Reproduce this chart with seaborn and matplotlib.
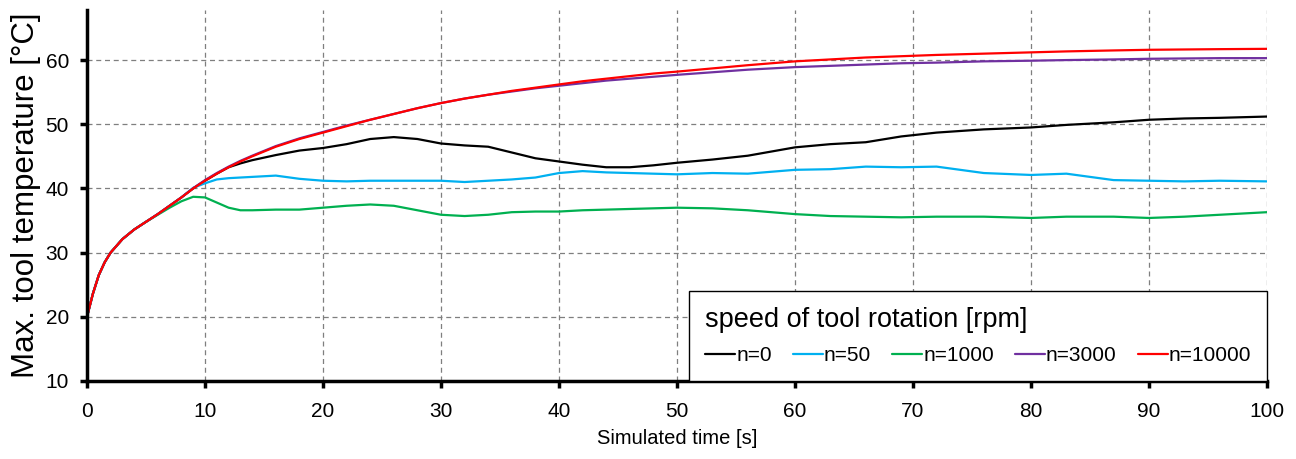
import matplotlib
matplotlib.use("Agg")
import matplotlib.pyplot as plt
import seaborn as sns
import pandas as pd

time_s = [0, 0.5, 1, 1.5, 2, 3, 4, 5, 6, 7, 8, 9, 10, 11, 12, 13, 14, 16, 18, 20,
          22, 24, 26, 28, 30, 32, 34, 36, 38, 40, 42, 44, 46, 48, 50, 53, 56, 60,
          63, 66, 69, 72, 76, 80, 83, 87, 90, 93, 96, 100]

n10000 = [20.0, 23.6, 26.5, 28.5, 30.0, 32.1, 33.6, 34.8, 36.0, 37.3, 38.6, 40.0, 41.2,
          42.3, 43.3, 44.2, 45.0, 46.5, 47.7, 48.7, 49.7, 50.7, 51.6, 52.5, 53.3, 54.0,
          54.6, 55.2, 55.7, 56.2, 56.7, 57.1, 57.5, 57.9, 58.2, 58.7, 59.2, 59.8, 60.1,
          60.4, 60.6, 60.8, 61.0, 61.2, 61.35, 61.5, 61.6, 61.65, 61.7, 61.75]

n3000 = [20.0, 23.6, 26.5, 28.5, 30.0, 32.1, 33.6, 34.8, 36.0, 37.3, 38.6, 40.05, 41.3,
         42.4, 43.4, 44.3, 45.1, 46.6, 47.8, 48.8, 49.8, 50.7, 51.6, 52.5, 53.3, 54.0,
         54.6, 55.1, 55.6, 56.0, 56.4, 56.8, 57.1, 57.4, 57.7, 58.1, 58.5, 58.9, 59.1,
         59.3, 59.5, 59.6, 59.8, 59.9, 60.0, 60.1, 60.2, 60.25, 60.3, 60.3]

n0 = [20.0, 23.6, 26.5, 28.5, 30.0, 32.1, 33.6, 34.8, 36.0, 37.3, 38.6, 40.0, 41.2,
      42.3, 43.3, 43.9, 44.4, 45.2, 45.9, 46.3, 46.9, 47.7, 48.0, 47.7, 47.0, 46.7,
      46.5, 45.6, 44.7, 44.2, 43.7, 43.3, 43.3, 43.6, 44.0, 44.5, 45.1, 46.4, 46.9,
      47.2, 48.1, 48.7, 49.2, 49.5, 49.9, 50.3, 50.7, 50.9, 51.0, 51.2]

n50 = [20.0, 23.6, 26.5, 28.5, 30.0, 32.1, 33.6, 34.8, 36.0, 37.3, 38.6, 40.1, 40.8,
       41.4, 41.6, 41.7, 41.8, 42.0, 41.5, 41.2, 41.1, 41.2, 41.2, 41.2, 41.2, 41.0,
       41.2, 41.4, 41.7, 42.4, 42.7, 42.5, 42.4, 42.3, 42.2, 42.4, 42.3, 42.9, 43.0,
       43.4, 43.3, 43.4, 42.4, 42.1, 42.3, 41.3, 41.2, 41.1, 41.2, 41.1]

n1000 = [20.0, 23.6, 26.5, 28.5, 30.0, 32.1, 33.6, 34.8, 35.9, 37.0, 38.0, 38.7, 38.6,
         37.8, 37.0, 36.6, 36.6, 36.7, 36.7, 37.0, 37.3, 37.5, 37.3, 36.6, 35.9, 35.7,
         35.9, 36.3, 36.4, 36.4, 36.6, 36.7, 36.8, 36.9, 37.0, 36.9, 36.6, 36.0, 35.7,
         35.6, 35.5, 35.6, 35.6, 35.4, 35.6, 35.6, 35.4, 35.6, 35.9, 36.3]

series_labels = ["n=0", "n=50", "n=1000", "n=3000", "n=10000"]
series_values = [n0, n50, n1000, n3000, n10000]
series_colors = ["#000000", "#00B0F0", "#00B050", "#7030A0", "#FF0000"]

x_ticks = [0, 10, 20, 30, 40, 50, 60, 70, 80, 90, 100]
y_ticks = [10, 20, 30, 40, 50, 60]

rows = []
for lab, vals in zip(series_labels, series_values):
    for t, v in zip(time_s, vals):
        rows.append({"time": t, "temp": v, "speed": lab})
df = pd.DataFrame(rows)

sns.set_theme(style="white")
plt.rcParams["font.family"] = ["Liberation Sans", "DejaVu Sans"]
plt.rcParams["text.color"] = "black"

fig = plt.figure(figsize=(12.96, 4.59), dpi=100)
ax = fig.add_axes([87 / 1296, 1 - 381 / 459, (1267 - 87) / 1296, (381 - 10) / 459])

sns.lineplot(data=df, x="time", y="temp", hue="speed", hue_order=series_labels,
             palette=dict(zip(series_labels, series_colors)), linewidth=1.6,
             ax=ax, legend=True)

ax.set_xlim(0, 100)
ax.set_ylim(10, 67.8)
ax.set_xticks(x_ticks)
ax.set_yticks(y_ticks)
ax.grid(True, color="#7f7f7f", linestyle=(0, (4, 3)), linewidth=0.9)
ax.set_axisbelow(True)

for s in ["top", "right"]:
    ax.spines[s].set_visible(False)
for s in ["left", "bottom"]:
    ax.spines[s].set_color("black")
    ax.spines[s].set_linewidth(2.5)

ax.tick_params(axis="both", direction="out", length=5, width=2.5, colors="black",
               labelsize=15, left=True, bottom=True)
ax.tick_params(axis="x", pad=10)
ax.tick_params(axis="y", pad=8)
ax.set_xlabel("Simulated time [s]", fontsize=14.5, color="black", labelpad=6)
ax.set_ylabel("Max. tool temperature [°C]", fontsize=22.5, color="black", labelpad=3)

leg = ax.legend(title="speed of tool rotation [rpm]", loc="lower right",
                bbox_to_anchor=(1.0, 0.0), borderaxespad=0.0, ncol=5,
                fontsize=15, title_fontsize=19.5, handlelength=1.45,
                handletextpad=0.05, columnspacing=1.0, frameon=True,
                fancybox=False, borderpad=0.75, labelspacing=0.65,
                alignment="left")
leg.get_frame().set_edgecolor("black")
leg.get_frame().set_linewidth(1.0)
leg.get_frame().set_alpha(1.0)
for line in leg.get_lines():
    line.set_linewidth(1.6)

fig.savefig("out.png", dpi=100)
